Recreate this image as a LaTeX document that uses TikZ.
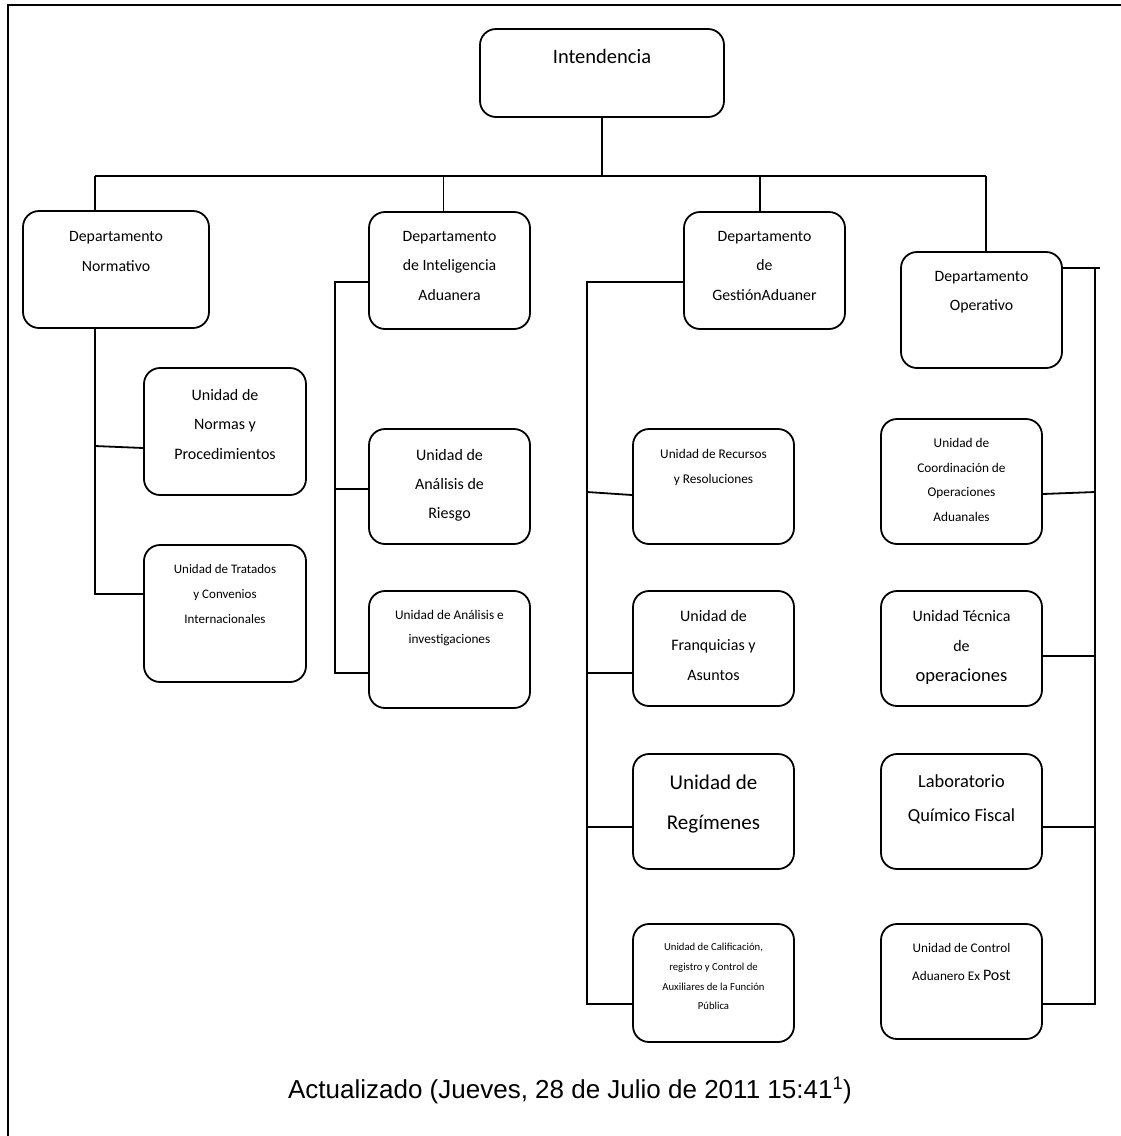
\documentclass[tikz,border=0pt]{standalone}
\usepackage{fontspec}
\setmainfont{Carlito}
\newfontfamily\arialf{Liberation Sans}
\newcommand\fsz[2]{\fontsize{#1}{#2}\selectfont}
\begin{document}
\begin{tikzpicture}[x=1pt,y=-1pt,
  box/.style={draw, line width=1.8pt, rounded corners=16pt, minimum width=161pt, inner sep=0pt},
  lbl/.style={anchor=north, align=center, inner sep=0pt},
  conn/.style={line width=1.8pt},
  thinconn/.style={line width=1pt}]
\useasboundingbox (0,0) rectangle (1121,1136);
% frame (top and left only)
\draw[line width=2pt] (8,1136) -- (8,5) -- (1121,5);

% boxes
\node[box, minimum width=244pt, minimum height=88pt] (int) at (602,73) {};
\node[box, minimum width=186pt, minimum height=117pt] (norm) at (116,269.5) {};
\node[box, minimum height=117pt] (intel) at (449.5,270.5) {};
\node[box, minimum height=117pt] (gest) at (764.5,270.5) {};
\node[box, minimum height=116pt] (oper) at (981.5,310) {};

\node[box, minimum width=162pt, minimum height=127pt] (normas) at (225,431.5) {};
\node[box, minimum width=162pt, minimum height=137pt] (trat) at (225,613.5) {};
\node[box, minimum height=115pt] (riesgo) at (449.5,486.5) {};
\node[box, minimum height=117pt] (invest) at (449.5,649.5) {};

\node[box, minimum height=115pt] (recur) at (713.5,486.5) {};
\node[box, minimum height=115pt] (franq) at (713.5,648.5) {};
\node[box, minimum height=115pt] (regim) at (713.5,811.5) {};
\node[box, minimum height=118pt] (calif) at (713.5,983) {};

\node[box, minimum height=125pt] (coord) at (961.5,481.5) {};
\node[box, minimum height=115pt] (tecn) at (961.5,648.5) {};
\node[box, minimum height=115pt] (lab) at (961.5,811.5) {};
\node[box, minimum height=115pt] (ctrl) at (961.5,981.5) {};

% texts
\node[lbl, font=\fsz{20.5}{25}] (tint) at (602,49) {Intendencia};
\node[lbl, font=\fsz{15.8}{30}] (tnorm) at (116,231) {Departamento\\Normativo};
\node[lbl, font=\fsz{15.8}{29.5}] (tintel) at (449.5,231) {Departamento\\de Inteligencia\\Aduanera};
\node[lbl, font=\fsz{15.8}{29.5}] (tgest) at (764.5,231) {Departamento\\de\\GestiónAduaner};
\node[lbl, font=\fsz{15.8}{29}] (toper) at (981.5,271) {Departamento\\Operativo};

\node[lbl, font=\fsz{16}{29.5}] (tnormas) at (225,389) {Unidad de\\Normas y\\Procedimientos};
\node[lbl, font=\fsz{13}{25}] (ttrat) at (225,564) {Unidad de Tratados\\y Convenios\\Internacionales};
\node[lbl, font=\fsz{16}{29}] (triesgo) at (449.5,449) {Unidad de\\Análisis de\\Riesgo};
\node[lbl, font=\fsz{13.3}{24}] (tinvest) at (449.5,610) {Unidad de Análisis e\\investigaciones};

\node[lbl, font=\fsz{13.3}{25}] (trecur) at (713.5,449) {Unidad de Recursos\\y Resoluciones};
\node[lbl, font=\fsz{16}{29.5}] (tfranq) at (713.5,610) {Unidad de\\Franquicias y\\Asuntos};
\node[lbl, font=\fsz{21}{40}] (tregim) at (713.5,775) {Unidad de\\Regímenes};
\node[lbl, font=\fsz{10.7}{19.7}] (tcalif) at (713.5,943) {Unidad de Calificación,\\registro y Control de\\Auxiliares de la Función\\Pública};

\node[lbl, font=\fsz{13.3}{24.7}] (tcoord) at (961.5,438) {Unidad de\\Coordinación de\\Operaciones\\Aduanales};
\node[lbl, font=\fsz{16}{30}] (ttecn) at (961.5,610) {Unidad Técnica\\de\\{\fsz{18.5}{30}operaciones}};
\node[lbl, font=\fsz{18.4}{34}] (tlab) at (961.5,775) {Laboratorio\\Químico Fiscal};
\node[lbl, font=\fsz{13.2}{28}] (tctrl) at (961.5,943) {Unidad de Control\\Aduanero Ex {\fsz{16}{28}Post}};

\node[font=\arialf\fsz{26}{30}, inner sep=0pt] (foot) at (570,1090) {Actualizado (Jueves, 28 de Julio de 2011 15:41\textsuperscript{1})};

% top level connectors
\coordinate (bar) at (602,176);
\coordinate (bL) at (95,176);
\coordinate (bR) at (986,176);
\coordinate (b2) at (443,176);
\coordinate (b3) at (760,176);
\draw[conn] (int.south) -- (bar);
\draw[conn] (bL) -- (bR);
\draw[conn] (bL) -- (bL |- norm.north);
\draw[thinconn] (b2) -- (b2 |- intel.north);
\draw[conn] (b3) -- (b3 |- gest.north);
\draw[conn] (bR) -- (bR |- oper.north);

% Normativo branch
\coordinate (nT) at (95,594);
\coordinate (nA) at (95,446);
\draw[conn] (norm.south -| nT) -- (nT) -- (trat.west |- nT);
\draw[conn] (nA) -- ([yshift=-2pt]normas.west |- nA);

% Inteligencia branch
\coordinate (iT) at (335,282);
\coordinate (iB) at (335,673);
\coordinate (iR) at (335,489);
\draw[conn] (intel.west |- iT) -- (iT) -- (iB) -- (invest.west |- iB);
\draw[conn] (iR) -- (riesgo.west |- iR);

% Gestion branch
\coordinate (gT) at (587,282);
\coordinate (gB) at (587,1004);
\coordinate (g1) at (587,492);
\coordinate (g2) at (587,673);
\coordinate (g3) at (587,827);
\draw[conn] (gest.west |- gT) -- (gT) -- (gB) -- (calif.west |- gB);
\draw[conn] (g1) -- ([yshift=-3pt]recur.west |- g1);
\draw[conn] (g2) -- (franq.west |- g2);
\draw[conn] (g3) -- (regim.west |- g3);

% Operativo branch
\coordinate (oT) at (1095,268);
\coordinate (oTx) at (1100,268);
\coordinate (oB) at (1095,1004);
\coordinate (o1) at (1095,492);
\coordinate (o2) at (1095,656);
\coordinate (o3) at (1095,827);
\draw[conn] (oper.east |- oT) -- (oTx);
\draw[conn] (oT) -- (oB) -- (ctrl.east |- oB);
\draw[conn] (o1) -- ([yshift=-2pt]coord.east |- o1);
\draw[conn] (o2) -- (tecn.east |- o2);
\draw[conn] (o3) -- (lab.east |- o3);
\end{tikzpicture}
\end{document}
